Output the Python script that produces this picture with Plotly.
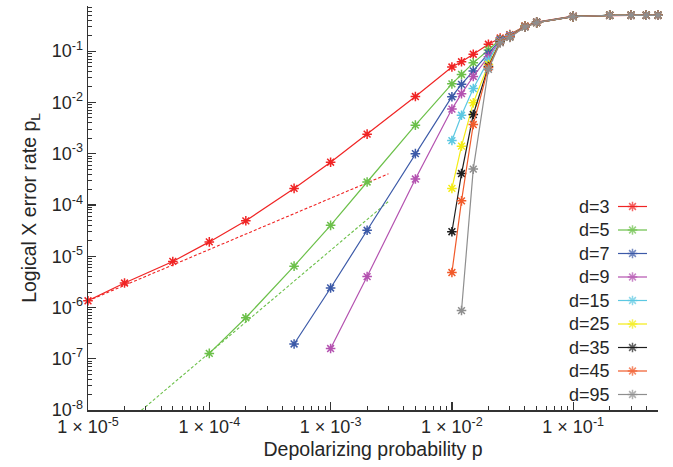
import plotly.graph_objects as go

# ---------------- data ----------------
p_grid = [1e-5, 2e-5, 5e-5, 1e-4, 2e-4, 5e-4, 1e-3, 2e-3, 5e-3, 1e-2, 1.2e-2, 1.5e-2,
          2e-2, 2.5e-2, 3e-2, 4e-2, 5e-2, 0.1, 0.2, 0.3, 0.4, 0.5]

labels = ["d=3", "d=5", "d=7", "d=9", "d=15", "d=25", "d=35", "d=45", "d=95"]
colors = ["#f02424", "#6cc04a", "#3c5aa8", "#b452b0", "#5cc8e2", "#f4ec14",
          "#1e1e1e", "#f15a2a", "#8e8e8e"]
start_p = [1e-5, 1e-4, 5e-4, 1e-3, 1e-2, 1e-2, 1e-2, 1e-2, 1.2e-2]

pL_d3 = [1.35e-6, 3.0e-6, 7.9e-6, 1.9e-5, 4.9e-5, 2.1e-4, 6.8e-4, 2.4e-3, 1.3e-2, 4.9e-2,
         6.2e-2, 8.7e-2, 0.136, 0.18, 0.21, 0.31, 0.37, 0.48, 0.5, 0.5, 0.5, 0.5]
pL_d5 = [1.27e-7, 6.3e-7, 6.4e-6, 4.0e-5, 2.8e-4, 3.6e-3, 0.023, 0.035, 0.059, 0.105,
         0.17, 0.205, 0.305, 0.365, 0.475, 0.5, 0.5, 0.5, 0.5]
pL_d7 = [1.94e-7, 2.4e-6, 3.2e-5, 1.0e-3, 0.0129, 0.0225, 0.041, 0.09, 0.165, 0.2,
         0.3, 0.365, 0.475, 0.5, 0.5, 0.5, 0.5]
pL_d9 = [1.58e-7, 4.0e-6, 3.2e-4, 7.4e-3, 0.0148, 0.032, 0.078, 0.16, 0.2, 0.3,
         0.36, 0.47, 0.5, 0.5, 0.5, 0.5]
pL_d15 = [1.8e-3, 5.6e-3, 0.0186, 0.066, 0.155, 0.195, 0.3, 0.36, 0.47, 0.5, 0.5, 0.5, 0.5]
pL_d25 = [2.1e-4, 1.4e-3, 9.8e-3, 0.055, 0.15, 0.19, 0.3, 0.36, 0.47, 0.5, 0.5, 0.5, 0.5]
pL_d35 = [3.0e-5, 4.1e-4, 5.8e-3, 0.05, 0.15, 0.19, 0.3, 0.36, 0.47, 0.5, 0.5, 0.5, 0.5]
pL_d45 = [4.8e-6, 1.2e-4, 3.7e-3, 0.048, 0.148, 0.19, 0.3, 0.36, 0.47, 0.5, 0.5, 0.5, 0.5]
pL_d95 = [8.7e-7, 5.0e-4, 0.044, 0.145, 0.185, 0.295, 0.36, 0.47, 0.5, 0.5, 0.5, 0.5]
series = [pL_d3, pL_d5, pL_d7, pL_d9, pL_d15, pL_d25, pL_d35, pL_d45, pL_d95]

# dashed leading-order fits
fit_p = [1e-5, 3e-3]
fit_d3 = [1.35e-6, 4.05e-4]
fit_d5 = [1.3e-9, 1.17e-4]

x_tick_vals = [1e-5, 1e-4, 1e-3, 1e-2, 1e-1]
x_tick_text = ["1 × 10<sup>-5</sup>", "1 × 10<sup>-4</sup>", "1 × 10<sup>-3</sup>",
               "1 × 10<sup>-2</sup>", "1 × 10<sup>-1</sup>"]
y_tick_vals = [1e-8, 1e-7, 1e-6, 1e-5, 1e-4, 1e-3, 1e-2, 1e-1]
y_tick_text = ["10<sup>-8</sup>", "10<sup>-7</sup>", "10<sup>-6</sup>", "10<sup>-5</sup>",
               "10<sup>-4</sup>", "10<sup>-3</sup>", "10<sup>-2</sup>", "10<sup>-1</sup>"]

# ---------------- figure ----------------
W, H = 673, 467
ML, MR, MT, MB = 88, 15, 6, 57
FONT = "Liberation Sans, Arial, Helvetica, sans-serif"
TXT = "#262626"

fig = go.Figure()

fig.add_trace(go.Scatter(x=fit_p, y=fit_d3, mode="lines", showlegend=False,
                         line=dict(color=colors[0], width=1.1, dash="3px,2px")))
fig.add_trace(go.Scatter(x=fit_p, y=fit_d5, mode="lines", showlegend=False,
                         line=dict(color=colors[1], width=1.1, dash="3px,2px")))

for lab, col, sp, ys in zip(labels, colors, start_p, series):
    i0 = p_grid.index(sp)
    xs = p_grid[i0:i0 + len(ys)]
    fig.add_trace(go.Scatter(
        x=xs, y=ys, mode="lines+markers", name=lab,
        line=dict(color=col, width=1.2),
        marker=dict(symbol="asterisk-open", size=8, color=col,
                    line=dict(color=col, width=1.5)),
        cliponaxis=False, showlegend=False))

# custom legend (text left of key) on a pixel overlay axis
leg_y0, leg_dy = 206.5, 23.5
key_x0, key_x1, text_x = 618, 647, 612
for i, (lab, col) in enumerate(zip(labels, colors)):
    yy = leg_y0 + i * leg_dy
    fig.add_trace(go.Scatter(
        x=[key_x0, (key_x0 + key_x1) / 2, key_x1], y=[yy, yy, yy],
        xaxis="x2", yaxis="y2", mode="lines+markers", showlegend=False,
        line=dict(color=col, width=1.2),
        marker=dict(symbol="asterisk-open", size=[0, 8, 0], color=col,
                    line=dict(color=col, width=1.5)),
        hoverinfo="skip", cliponaxis=False))
    fig.add_annotation(x=text_x, y=yy, xref="x2", yref="y2", text=lab,
                       showarrow=False, xanchor="right", yanchor="middle",
                       font=dict(size=18, color=TXT, family=FONT))

minor_x = [m * 10.0 ** k for k in range(-5, 0) for m in range(2, 10) if m * 10.0 ** k <= 0.5]
minor_y = [m * 10.0 ** k for k in range(-8, 0) for m in range(2, 10) if m * 10.0 ** k <= 0.76]

axis_common = dict(
    type="log", showgrid=False, zeroline=False, showline=True, automargin=False,
    linecolor="#333333", linewidth=1.5, ticks="inside", ticklen=8,
    tickwidth=1.2, tickcolor="#333333", tickmode="array",
    tickfont=dict(size=18, color=TXT, family=FONT),
    minor=dict(tickmode="array", ticks="inside", ticklen=4, tickwidth=1,
               tickcolor="#333333", showgrid=False),
)

fig.update_layout(
    width=W, height=H,
    margin=dict(l=ML, r=MR, t=MT, b=MB),
    paper_bgcolor="white", plot_bgcolor="white",
    font=dict(family=FONT, color=TXT, size=18),
    hovermode=False,
    xaxis=dict(axis_common, range=[-5, -0.301], tickvals=x_tick_vals,
               ticktext=x_tick_text,
               minor=dict(axis_common["minor"], tickvals=minor_x),
               title=dict(text="Depolarizing probability p",
                          font=dict(size=19.5, color=TXT, family=FONT), standoff=6)),
    yaxis=dict(axis_common, range=[-8, -0.12], tickvals=y_tick_vals,
               ticktext=y_tick_text,
               minor=dict(axis_common["minor"], tickvals=minor_y),
               title=dict(text="Logical X error rate p<sub>L</sub>",
                          font=dict(size=19.5, color=TXT, family=FONT), standoff=10)),
    xaxis2=dict(overlaying="x", range=[ML, W - MR], visible=False, fixedrange=True,
                automargin=False),
    yaxis2=dict(overlaying="y", range=[H - MB, MT], visible=False, fixedrange=True,
                automargin=False),
)

fig.write_html("out.html",
               config={"displayModeBar": False, "staticPlot": True},
               post_script="document.body.style.margin='0px';"
                           "document.body.style.overflow='hidden';")
